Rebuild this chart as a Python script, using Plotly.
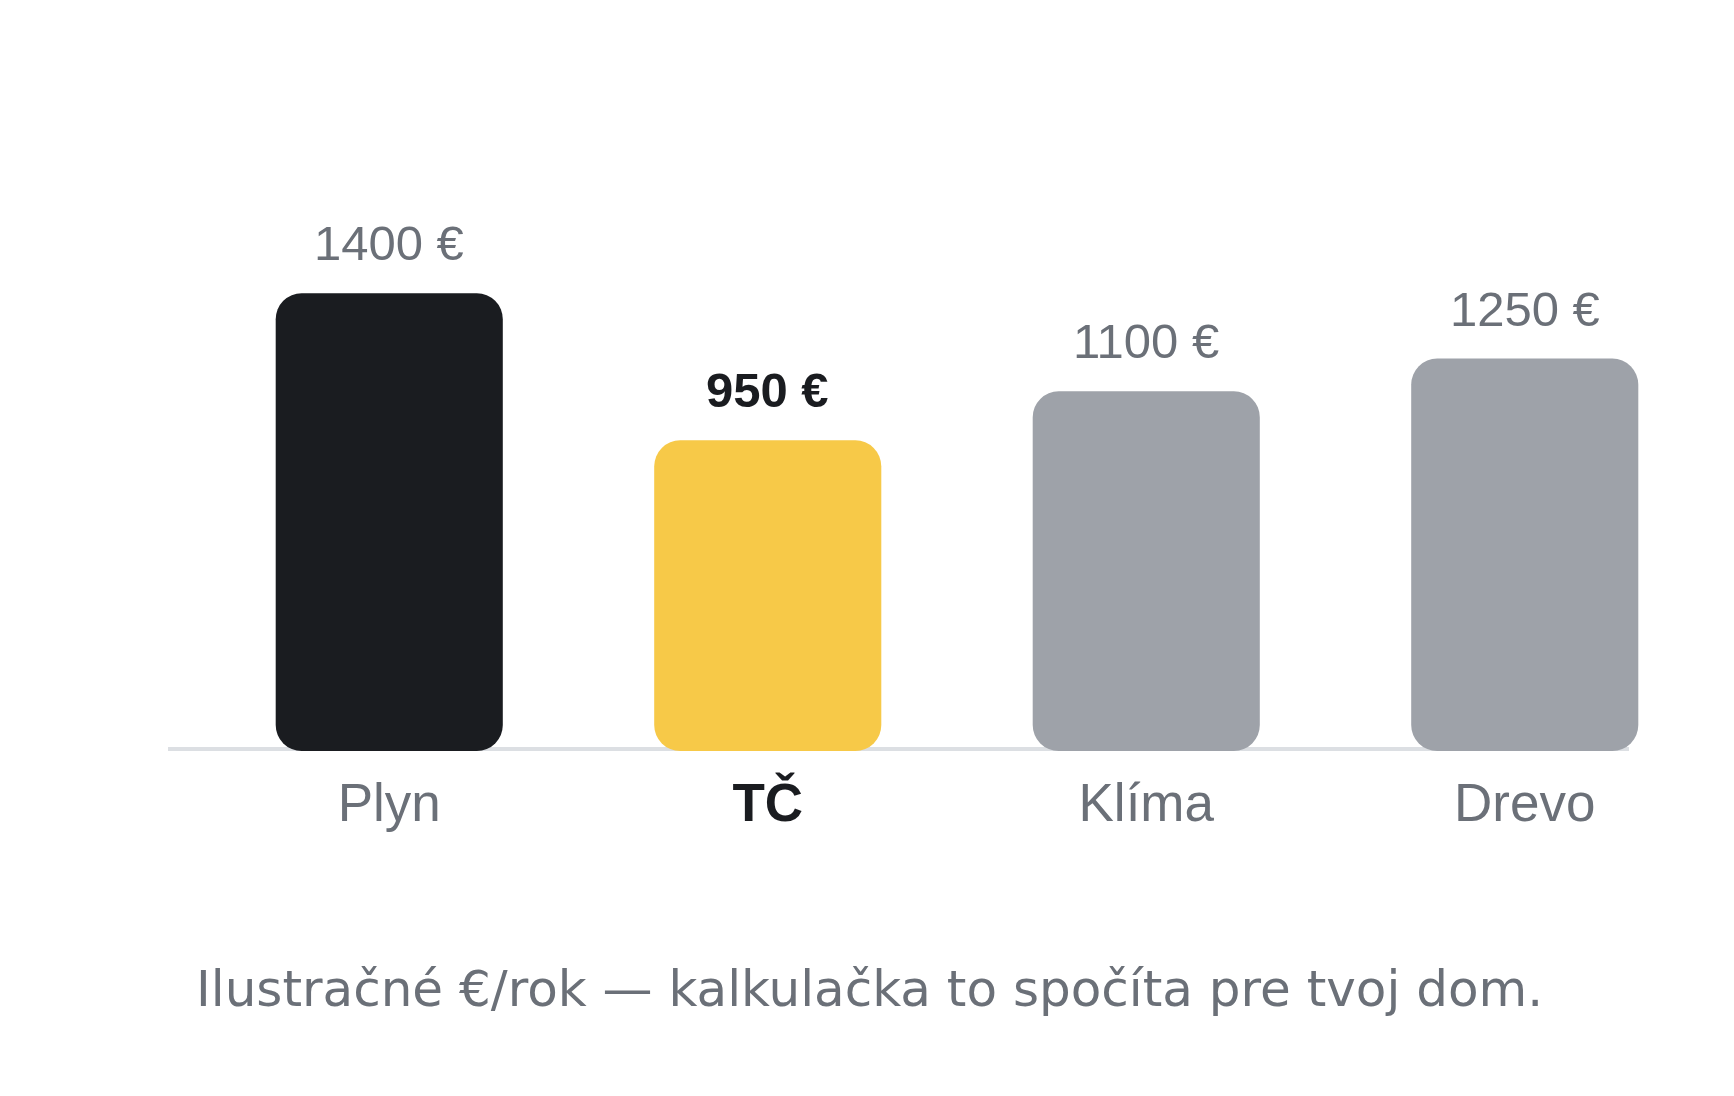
import plotly.graph_objects as go

# ročné náklady na vykurovanie (ilustračné)
categories = ["Plyn", "TČ", "Klíma", "Drevo"]
costs = [1400, 950, 1100, 1250]          # hodnoty v popiskoch
bar_heights = [1400, 950, 1100, 1200]    # výška stĺpcov odčítaná z obrázka
highlight = "TČ"
note = "Ilustračné €/rok — kalkulačka to spočíta pre tvoj dom."

W, H = 1734, 1096
OFF = 8  # okraj stránky (body margin)
ML, MR, MT = 200 - OFF, 28, 97 - OFF
PLOT_H = 654
MB = H - MT - PLOT_H

bar_colors = {"Plyn": "#1a1c20", "TČ": "#f7c948", "Klíma": "#9ea2a9", "Drevo": "#9ea2a9"}
GRAY_TXT = "#6b7078"
DARK_TXT = "#1a1c20"

colors = [bar_colors[c] for c in categories]

fig = go.Figure()
fig.add_trace(go.Bar(x=categories, y=bar_heights, base=[0] * len(bar_heights),
                     marker=dict(color=colors, cornerradius=26, line=dict(width=0)),
                     width=0.6, hoverinfo="skip"))

for c, v, h in zip(categories, costs, bar_heights):
    bold = c == highlight
    fig.add_annotation(
        x=c, y=h, xref="x", yref="y",
        text=f"<b>{v} €</b>" if bold else f"{v} €",
        showarrow=False, yanchor="bottom", yshift=21,
        font=dict(family="Liberation Sans, Arial, sans-serif", size=49,
                  color=DARK_TXT if bold else GRAY_TXT),
    )

ticktext = [
    f"<b><span style='color:{DARK_TXT}'>{c}</span></b>" if c == highlight else c
    for c in categories
]

plot_w = W - ML - MR

fig.add_shape(type="line", xref="paper", yref="y",
              x0=(168 - OFF - ML) / plot_w, x1=(1629 - OFF - ML) / plot_w, y0=0, y1=0,
              line=dict(color="#dcdfe3", width=8), layer="below")

fig.add_annotation(
    x=(W / 2 + 2 - OFF - ML) / plot_w, y=-(989 - 751) / PLOT_H, xref="paper", yref="paper",
    text=note, showarrow=False, xanchor="center", yanchor="middle",
    font=dict(family="DejaVu Sans, sans-serif", size=50, color=GRAY_TXT),
)

fig.update_layout(
    width=W, height=H,
    margin=dict(l=ML, r=MR, t=MT, b=MB),
    paper_bgcolor="white", plot_bgcolor="white",
    showlegend=False,
    xaxis=dict(tickvals=categories, ticktext=ticktext, range=[-0.5, 3.5],
               showgrid=False, zeroline=False, showline=False, ticks="",
               ticklabelstandoff=16,
               tickfont=dict(family="Liberation Sans, Arial, sans-serif", size=53, color=GRAY_TXT)),
    yaxis=dict(range=[0, 2000], visible=False, showgrid=False, zeroline=False),
)

fig.write_html("out.html")
